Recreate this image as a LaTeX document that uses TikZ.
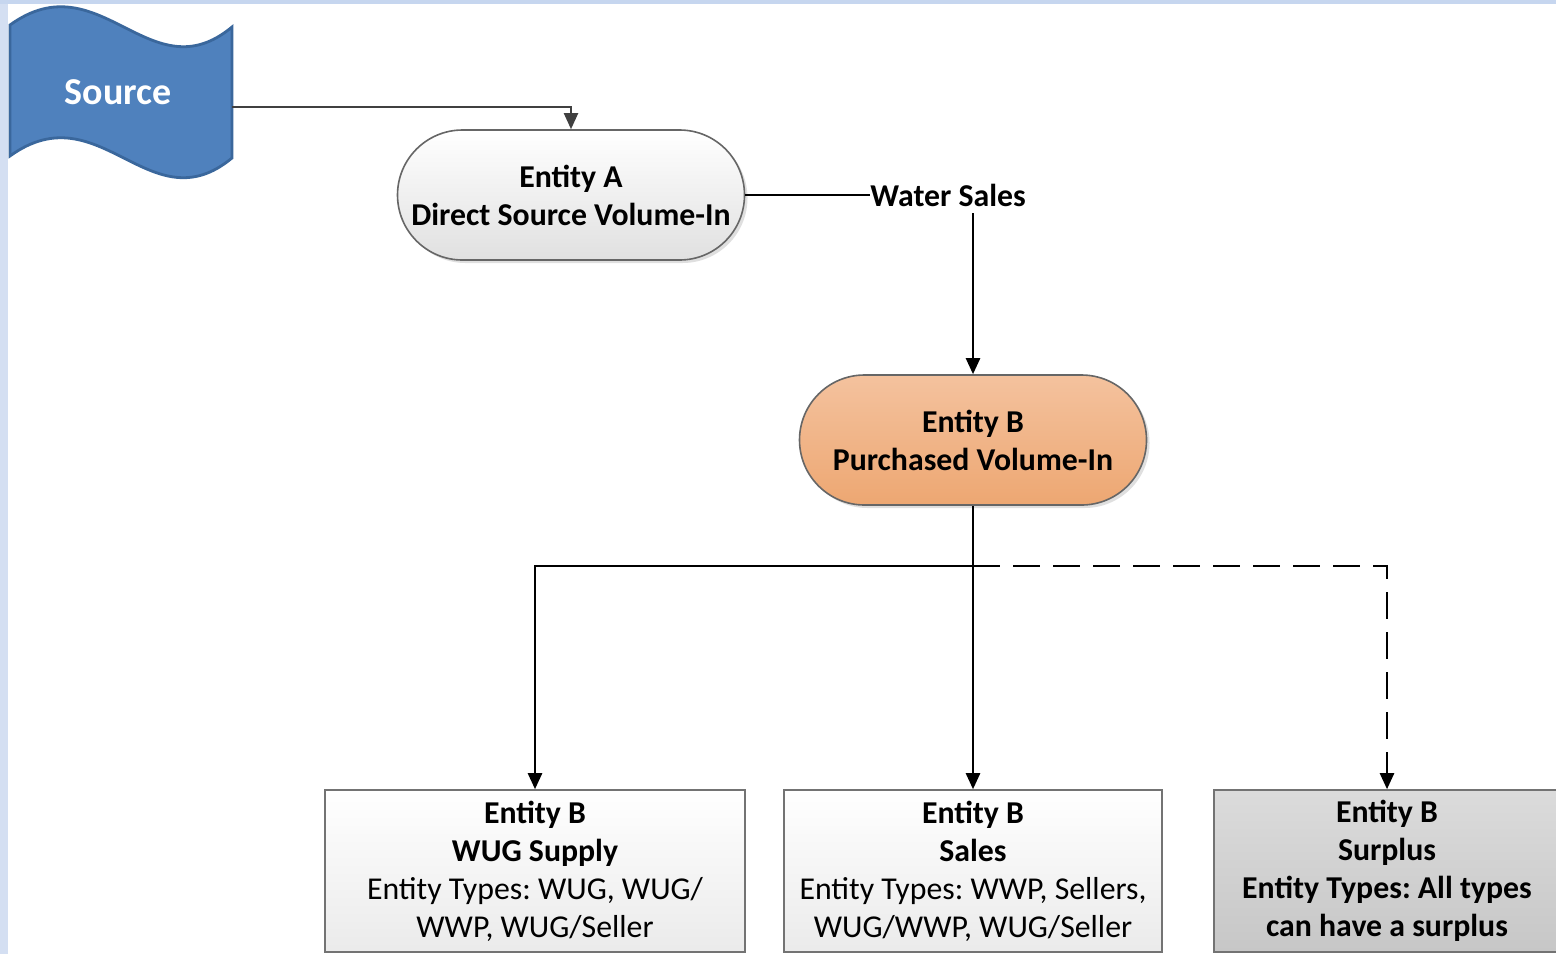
\documentclass[tikz,border=0pt]{standalone}
\usepackage{fontspec}
\setmainfont{Carlito}
\usepackage{tikz}
\usetikzlibrary{arrows.meta}
\usetikzlibrary{shadows}

\definecolor{srcblue}{HTML}{4F81BD}
\definecolor{srcedge}{HTML}{3A679C}
\definecolor{framel}{HTML}{D4DFF2}
\definecolor{framet}{HTML}{C6D6EF}
\definecolor{orangetop}{HTML}{F4C29E}
\definecolor{orangebot}{HTML}{EDA772}

\begin{document}
\frenchspacing
\begin{tikzpicture}[x=0.5pt,y=-0.5pt,
    font=\fontsize{15.9}{19}\selectfont,
    flow/.style={draw=black,line width=1.2pt,-{Triangle[length=8pt,width=7pt]}},
    term/.style={draw=black!60,line width=0.8pt,rounded corners=32.5pt,
        minimum width=173.5pt,minimum height=65pt,align=center,
        font=\fontsize{15.9}{19}\selectfont\bfseries,
        drop shadow={shadow xshift=1.5pt,shadow yshift=-1.5pt,opacity=0.25}},
    tbox/.style={draw=black!55,line width=0.8pt,minimum height=81pt,align=center,
        top color=white,bottom color=black!8}]
    \useasboundingbox (0,0) rectangle (1556,954);
    \fill[white] (0,0) rectangle (1556,954);
    \fill[framel] (0,0) rectangle (8,954);
    \fill[framet] (0,0) rectangle (1556,4);

    % source flag
    \draw[fill=srcblue,draw=srcedge,line width=1.4pt] (10,25) .. controls (100,-40) and (150,95) .. (232,27)
        -- (232,158) .. controls (150,226) and (100,91) .. (10,156) -- cycle;
    \node[text=white,font=\fontsize{19}{22}\selectfont\bfseries] (source) at (118,92) {Source};
    \coordinate (srcout) at (232,107);

    \node[term,top color=white,bottom color=black!12] (entA) at (571,195) {Entity A\\Direct Source Volume-In};
    \node[term,top color=orangetop,bottom color=orangebot] (entB) at (973,440) {Entity B\\Purchased Volume-In};
    \node[anchor=west,inner xsep=0pt,font=\fontsize{15.9}{19}\selectfont\bfseries] (water) at (870,195) {Water Sales};

    \node[tbox,minimum width=210pt] (wug) at (535,871)
        {\textbf{Entity B}\\\textbf{WUG Supply}\\Entity Types: WUG, WUG/\\WWP, WUG/Seller};
    \node[tbox,minimum width=189pt] (sales) at (973,871)
        {\textbf{Entity B}\\\textbf{Sales}\\Entity Types: WWP, Sellers,\\WUG/WWP, WUG/Seller};
    \node[tbox,minimum width=173pt,top color=black!14,bottom color=black!22,
        font=\fontsize{15.9}{19}\selectfont\bfseries] (surplus) at (1387,871)
        {Entity B\\Surplus\\Entity Types: All types\\can have a surplus};

    \draw[flow,draw=black!75,line width=1pt] (srcout) -| (entA.north);
    \draw[line width=1.2pt] (entA.east) -- (water.west);
    \draw[flow] (water.south -| entB.north) -- (entB.north);
    \draw[flow] (entB.south) -- (sales.north);
    \coordinate (split) at (973,566);
    \draw[flow] (split) -| (wug.north);
    \draw[flow,dash pattern=on 13.5pt off 6.5pt] (split) -| (surplus.north);
\end{tikzpicture}
\end{document}
